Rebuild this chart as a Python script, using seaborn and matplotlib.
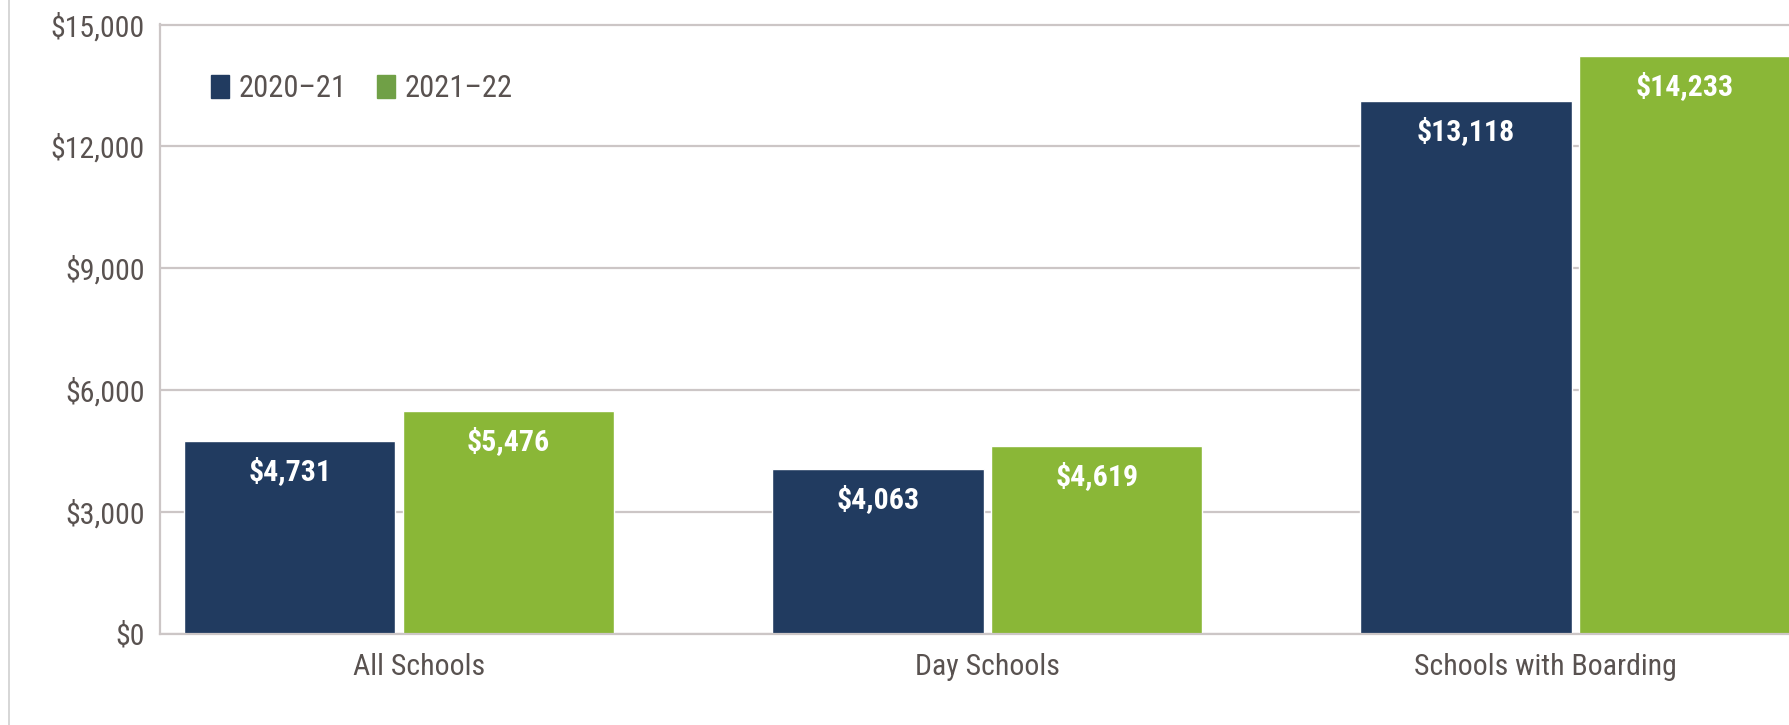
import matplotlib
matplotlib.use("Agg")
import matplotlib.pyplot as plt
import matplotlib.patches as mpatches
import matplotlib.lines as mlines
import matplotlib.transforms as mtransforms
import seaborn as sns
import pandas as pd
from matplotlib.ticker import FuncFormatter

categories = ["All Schools", "Day Schools", "Schools with Boarding"]
years = ["2020\u201321", "2021\u201322"]
values_2020_21 = [4731, 4063, 13118]
values_2021_22 = [5476, 4619, 14233]
yticks = [0, 3000, 6000, 9000, 12000, 15000]

navy = "#213B60"
green = "#8AB737"
legend_green = "#70A046"
text_color = "#595250"
grid_color = "#CCC6C6"

df = pd.DataFrame({
    "category": categories * 2,
    "year": [years[0]] * 3 + [years[1]] * 3,
    "value": values_2020_21 + values_2021_22,
})

sns.set_theme(style="white")
plt.rcParams["font.family"] = ["Roboto Condensed", "DejaVu Sans"]

W, H = 1790, 725
fig = plt.figure(figsize=(W / 100, H / 100), dpi=100)
ax = fig.add_axes([160 / W, 1 - 633.5 / H, 1 - 160 / W, (633.5 - 24.5) / H])

sns.barplot(data=df, x="category", y="value", hue="year", order=categories,
            hue_order=years, palette=[navy, green], width=0.744, gap=0.035,
            saturation=1, legend=False, ax=ax, errorbar=None)

ax.set_ylim(0, 15000)
ax.set_xlim(-0.407, 2.365)
ax.set_yticks(yticks)
ax.yaxis.set_major_formatter(FuncFormatter(lambda v, p: f"${int(v):,}"))
ax.grid(axis="y", color=grid_color, linewidth=1.6)
ax.set_axisbelow(True)
ax.spines["right"].set_visible(False)
for s in ["left", "bottom", "top"]:
    ax.spines[s].set_color(grid_color)
    ax.spines[s].set_linewidth(1.6)
ax.tick_params(axis="y", length=0, pad=11, labelsize=21.5, labelcolor=text_color)
ax.tick_params(axis="x", length=0, pad=14, labelsize=21.5, labelcolor=text_color)
ax.set_xlabel("")
ax.set_ylabel("")

# small horizontal shifts of category labels, as in the reference
shifts_px = [20, 0, -30]
for lbl, dx in zip(ax.get_xticklabels(), shifts_px):
    lbl.set_transform(lbl.get_transform() + mtransforms.ScaledTranslation(dx / 100, 0, fig.dpi_scale_trans))

for cont in ax.containers:
    for rect in cont:
        h = rect.get_height()
        ax.annotate(f"${int(round(h)):,}", (rect.get_x() + rect.get_width() / 2, h),
                    xytext=(0, -22), textcoords="offset points", ha="center", va="center",
                    color="white", fontsize=21.5, fontweight="bold")

handles = [mpatches.Patch(color=navy, label=years[0]),
           mpatches.Patch(color=legend_green, label=years[1])]
leg = fig.legend(handles=handles, loc="center left",
                 bbox_to_anchor=(211 / W, 1 - 88.5 / H), bbox_transform=fig.transFigure,
                 ncol=2, frameon=False, fontsize=22, handlelength=0.58, handleheight=0.75,
                 handletextpad=0.32, columnspacing=1.0, borderaxespad=0, borderpad=0)
for t in leg.get_texts():
    t.set_color(text_color)

fig.add_artist(mlines.Line2D([9 / W, 9 / W], [0.0, 1.0], color="#D0D0D0", linewidth=1.2))

fig.savefig("out.png", dpi=100, facecolor="white")
